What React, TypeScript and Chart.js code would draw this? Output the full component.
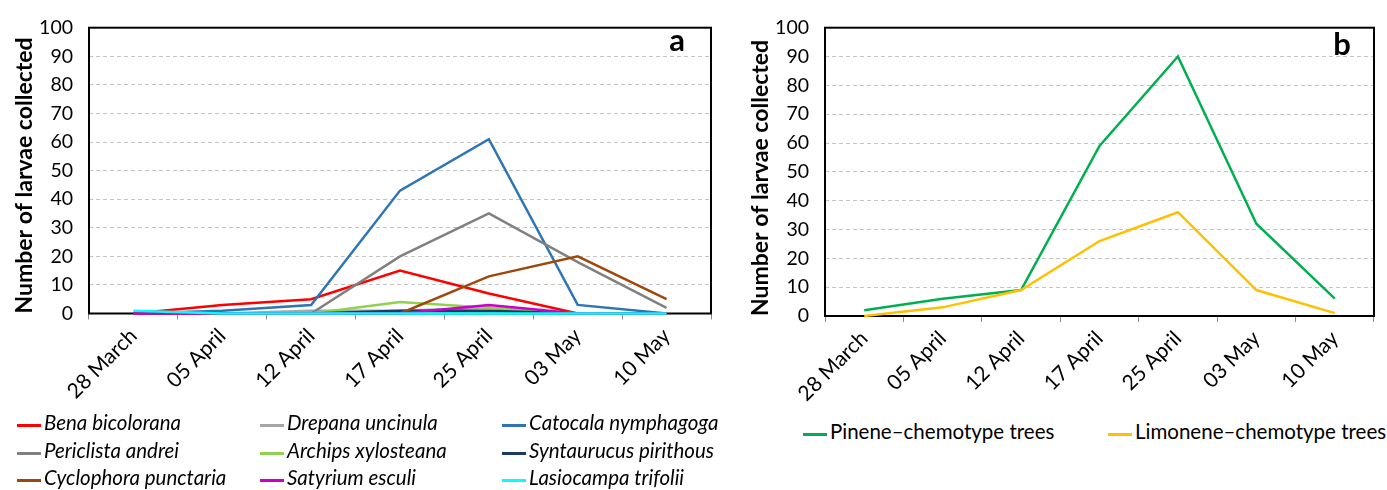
import React, { useEffect, useRef } from 'react';
import { Chart, registerables } from 'chart.js';

Chart.register(...registerables);

// ---------- data ----------
const dates = ['28 March', '05 April', '12 April', '17 April', '25 April', '03 May', '10 May'];

const speciesNames = [
  'Bena bicolorana', 'Drepana uncinula', 'Catocala nymphagoga',
  'Periclista andrei', 'Archips xylosteana', 'Syntaurucus pirithous',
  'Cyclophora punctaria', 'Satyrium esculi', 'Lasiocampa trifolii',
];
const speciesColors = [
  '#FF0000', '#A6A6A6', '#2E75B6',
  '#808080', '#92D050', '#1F3864',
  '#9E480E', '#CC00CC', '#00FFFF',
];
const benaBicolorana = [0, 3, 5, 15, 7, 0, 0];
const drepanaUncinula = [0, 0, 1, 1, 2, 0, 0];
const catocalaNymphagoga = [0, 1, 3, 43, 61, 3, 0];
const periclistaAndrei = [0, 0, 0, 20, 35, 18, 2];
const archipsXylosteana = [0, 0, 0, 4, 2, 0, 0];
const syntaurucusPirithous = [0, 0, 0, 1, 1, 0, 0];
const cyclophoraPunctaria = [0, 0, 0, 0, 13, 20, 5];
const satyriumEsculi = [0, 0, 0, 0, 3, 0, 0];
const lasiocampaTrifolii = [1, 0, 0, 0, 0, 0, 0];
const speciesValues = [
  benaBicolorana, drepanaUncinula, catocalaNymphagoga,
  periclistaAndrei, archipsXylosteana, syntaurucusPirithous,
  cyclophoraPunctaria, satyriumEsculi, lasiocampaTrifolii,
];

const treeNames = ['Pinene\u2013chemotype trees', 'Limonene\u2013chemotype trees'];
const treeColors = ['#00B050', '#FFC000'];
const pineneTrees = [2, 6, 9, 59, 90, 32, 6];
const limoneneTrees = [0, 3, 9, 26, 36, 9, 1];
const treeValues = [pineneTrees, limoneneTrees];

const yMin = 0;
const yMax = 100;
const yStep = 10;
const yTitle = 'Number of larvae collected';

// ---------- helpers ----------
const FONT = 'Lato';
const CANVAS_H = 410;

const framePlugin = {
  id: 'frame',
  beforeDatasetsDraw(chart: any) {
    const { ctx, chartArea } = chart;
    const { left, top, right, bottom } = chartArea;
    ctx.save();
    ctx.strokeStyle = '#000';
    ctx.lineWidth = 2;
    ctx.strokeRect(left, top, right - left, bottom - top);
    ctx.restore();
  },
  afterDraw(chart: any, _args: any, opts: any) {
    if (!opts || !opts.letter) return;
    const { ctx, chartArea } = chart;
    ctx.save();
    ctx.fillStyle = '#000';
    ctx.font = `bold 31px ${FONT}`;
    ctx.textAlign = 'center';
    ctx.textBaseline = 'alphabetic';
    ctx.fillText(opts.letter, chartArea.right - opts.dx, chartArea.top + opts.dy);
    ctx.restore();
  },
};

function makeConfig(
  names: string[], colors: string[], values: number[][],
  plotLeft: number, plotRight: number, plotTop: number, plotBottom: number,
  canvasW: number, letter: string, ldx: number, ldy: number, titlePad: number,
): any {
  const n = values.length;
  return {
    type: 'line',
    data: {
      labels: dates,
      datasets: values.map((v, i) => ({
        label: names[i],
        data: v,
        borderColor: colors[i],
        backgroundColor: colors[i],
        borderWidth: 2.5,
        pointRadius: 0,
        tension: 0,
        fill: false,
        clip: false,
        order: n - i,
      })),
    },
    options: {
      responsive: false,
      animation: false,
      events: [],
      layout: { padding: { left: 0, top: plotTop, right: canvasW - plotRight, bottom: 0 } },
      plugins: {
        legend: { display: false },
        tooltip: { enabled: false },
        frame: { letter, dx: ldx, dy: ldy },
      },
      scales: {
        x: {
          offset: true,
          grid: { offset: true, drawOnChartArea: false, drawTicks: true, tickLength: 6, color: '#8c8c8c', lineWidth: 1 },
          border: { display: false },
          ticks: {
            autoSkip: false, maxRotation: 45, minRotation: 45, padding: 4,
            color: '#000', font: { family: FONT, size: 21 },
          },
          afterFit: (s: any) => { s.height = CANVAS_H - plotBottom; },
        },
        y: {
          min: yMin, max: yMax,
          ticks: { stepSize: yStep, padding: 16, color: '#000', font: { family: FONT, size: 19.5 } },
          grid: {
            drawTicks: false,
            lineWidth: 1,
            color: (c: any) => (c.tick && (c.tick.value === yMin || c.tick.value === yMax)) ? 'rgba(0,0,0,0)' : '#c4c4c4',
          },
          border: { display: false, dash: [4, 3] },
          title: {
            display: true, text: yTitle, align: 'start', color: '#000',
            font: { family: FONT, size: 23, weight: 'bold' },
            padding: { top: titlePad, bottom: 0 },
          },
          afterFit: (s: any) => { s.width = plotLeft; },
        },
      },
    },
    plugins: [framePlugin],
  };
}

function Panel(props: { left: number; width: number; config: any }) {
  const ref = useRef<HTMLCanvasElement>(null);
  useEffect(() => {
    if (!ref.current) return;
    const chart = new Chart(ref.current, props.config);
    return () => chart.destroy();
  }, []);
  return (
    <canvas
      ref={ref}
      width={props.width}
      height={CANVAS_H}
      style={{ position: 'absolute', left: props.left, top: 0, width: props.width, height: CANVAS_H }}
    />
  );
}

function LegendItem(props: { x: number; y: number; color: string; text: string; italic: boolean; size: number }) {
  return (
    <div style={{ position: 'absolute', left: props.x, top: props.y - 14, height: 28, display: 'flex', alignItems: 'center', whiteSpace: 'nowrap' }}>
      <div style={{ width: 24, height: 3, background: props.color, marginRight: 3 }} />
      <span style={{ fontFamily: FONT, fontSize: props.size, fontStyle: props.italic ? 'italic' : 'normal', color: '#000', lineHeight: '28px', position: 'relative', top: -3 }}>
        {props.text}
      </span>
    </div>
  );
}

const configA = makeConfig(speciesNames, speciesColors, speciesValues, 89, 711, 21.5, 313.5, 720, 'a', 34, 23, 11);
const configB = makeConfig(treeNames, treeColors, treeValues, 105, 654, 24, 316, 667, 'b', 32, 27, 27);

export default function App() {
  const colX = [17, 260, 502];
  const rowY = [425, 453, 480];
  return (
    <div style={{ position: 'absolute', left: 0, top: 0, width: 1387, height: 490, background: '#fff', overflow: 'hidden' }}>
      <Panel left={0} width={720} config={configA} />
      <Panel left={720} width={667} config={configB} />
      {speciesNames.map((nm, i) => (
        <LegendItem key={nm} x={colX[i % 3]} y={rowY[Math.floor(i / 3)]} color={speciesColors[i]} text={nm} italic size={20.5} />
      ))}
      <LegendItem x={803} y={434} color={treeColors[0]} text={treeNames[0]} italic={false} size={20.5} />
      <LegendItem x={1108} y={434} color={treeColors[1]} text={treeNames[1]} italic={false} size={20.5} />
    </div>
  );
}
